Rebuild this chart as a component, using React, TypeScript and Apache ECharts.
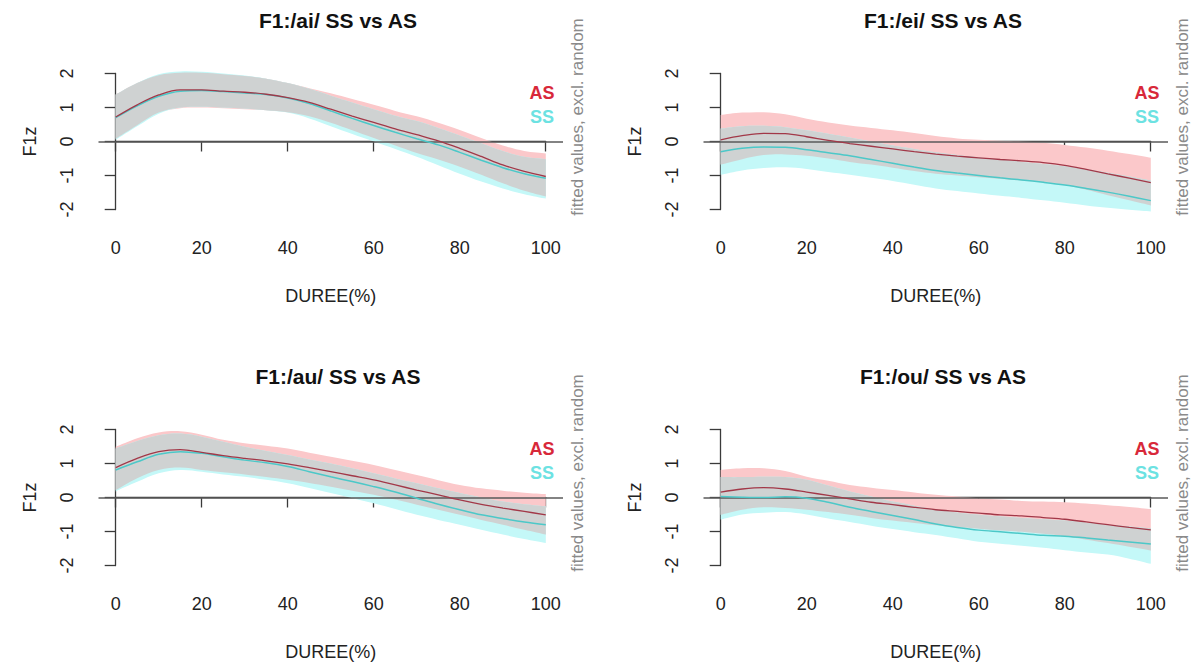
import React, { useEffect, useRef } from "react";
import * as echarts from "echarts";

// ---- data ----
const X = [0, 5, 10, 15, 20, 25, 30, 35, 40, 45, 50, 55, 60, 65, 70, 75, 80, 85, 90, 95, 100];
const X_TICKS = [0, 20, 40, 60, 80, 100];
const Y_TICKS = [-2, -1, 0, 1, 2];
const TITLES = ["F1:/ai/ SS vs AS", "F1:/ei/ SS vs AS", "F1:/au/ SS vs AS", "F1:/ou/ SS vs AS"];
const GROUPS = ["AS", "SS"];

// /ai/
const aiAsFit = [0.72, 1.08, 1.37, 1.52, 1.52, 1.48, 1.45, 1.39, 1.29, 1.15, 0.95, 0.75, 0.56, 0.37, 0.2, 0.02, -0.2, -0.44, -0.69, -0.88, -1.03];
const aiAsLo = [0.08, 0.48, 0.85, 0.98, 1.0, 0.98, 0.95, 0.92, 0.86, 0.74, 0.55, 0.33, 0.1, -0.12, -0.34, -0.53, -0.74, -0.98, -1.23, -1.45, -1.62];
const aiAsHi = [1.38, 1.72, 1.95, 2.02, 2.02, 1.98, 1.93, 1.85, 1.72, 1.57, 1.42, 1.25, 1.08, 0.9, 0.74, 0.55, 0.34, 0.1, -0.12, -0.28, -0.35];
const aiSsFit = [0.7, 1.05, 1.33, 1.48, 1.5, 1.47, 1.43, 1.38, 1.28, 1.12, 0.9, 0.68, 0.47, 0.27, 0.08, -0.1, -0.32, -0.55, -0.77, -0.95, -1.08];
const aiSsLo = [0.05, 0.45, 0.82, 1.0, 1.02, 1.0, 0.97, 0.92, 0.85, 0.68, 0.45, 0.22, 0.0, -0.22, -0.45, -0.7, -0.95, -1.18, -1.38, -1.55, -1.68];
const aiSsHi = [1.38, 1.72, 1.98, 2.06, 2.05, 2.0, 1.94, 1.85, 1.72, 1.55, 1.35, 1.15, 0.95, 0.76, 0.6, 0.4, 0.18, -0.05, -0.28, -0.45, -0.52];

// /ei/
const eiAsFit = [0.05, 0.17, 0.24, 0.23, 0.14, 0.03, -0.06, -0.14, -0.22, -0.3, -0.37, -0.43, -0.48, -0.53, -0.57, -0.62, -0.7, -0.82, -0.95, -1.08, -1.21];
const eiAsLo = [-0.68, -0.52, -0.4, -0.38, -0.42, -0.5, -0.6, -0.68, -0.77, -0.87, -0.95, -1.0, -1.05, -1.1, -1.15, -1.2, -1.28, -1.42, -1.58, -1.73, -1.88];
const eiAsHi = [0.78, 0.85, 0.86, 0.8, 0.67, 0.56, 0.47, 0.4, 0.33, 0.25, 0.16, 0.09, 0.05, 0.02, 0.0, -0.04, -0.1, -0.18, -0.27, -0.37, -0.48];
const eiSsFit = [-0.3, -0.2, -0.16, -0.17, -0.24, -0.33, -0.42, -0.53, -0.64, -0.75, -0.85, -0.93, -1.0, -1.07, -1.13, -1.2, -1.28, -1.38, -1.49, -1.61, -1.74];
const eiSsLo = [-0.98, -0.85, -0.78, -0.76, -0.81, -0.9, -0.98, -1.07, -1.16, -1.27, -1.38, -1.46, -1.53, -1.6, -1.66, -1.73, -1.8, -1.88, -1.95, -2.01, -2.06];
const eiSsHi = [0.38, 0.45, 0.46, 0.42, 0.33, 0.23, 0.12, 0.0, -0.12, -0.22, -0.32, -0.4, -0.47, -0.53, -0.6, -0.66, -0.73, -0.82, -0.92, -1.03, -1.15];

// /au/
const auAsFit = [0.88, 1.15, 1.35, 1.41, 1.33, 1.23, 1.15, 1.08, 0.99, 0.88, 0.76, 0.64, 0.52, 0.37, 0.22, 0.08, -0.07, -0.2, -0.31, -0.41, -0.51];
const auAsLo = [0.22, 0.57, 0.81, 0.88, 0.81, 0.74, 0.68, 0.6, 0.52, 0.43, 0.32, 0.2, 0.08, -0.06, -0.21, -0.36, -0.51, -0.66, -0.8, -0.95, -1.09];
const auAsHi = [1.49, 1.74, 1.91, 1.95, 1.85, 1.7, 1.6, 1.52, 1.44, 1.32, 1.2, 1.08, 0.96, 0.81, 0.66, 0.51, 0.37, 0.27, 0.2, 0.14, 0.1];
const auSsFit = [0.81, 1.05, 1.27, 1.35, 1.3, 1.2, 1.1, 1.02, 0.91, 0.76, 0.61, 0.47, 0.32, 0.16, -0.02, -0.2, -0.36, -0.51, -0.62, -0.72, -0.8];
const auSsLo = [0.18, 0.46, 0.71, 0.81, 0.76, 0.68, 0.61, 0.52, 0.42, 0.28, 0.13, -0.02, -0.17, -0.34, -0.51, -0.66, -0.8, -0.95, -1.09, -1.22, -1.34];
const auSsHi = [1.44, 1.66, 1.83, 1.88, 1.79, 1.64, 1.49, 1.37, 1.25, 1.12, 1.0, 0.86, 0.71, 0.56, 0.42, 0.27, 0.13, 0.0, -0.12, -0.2, -0.26];

// /ou/
const ouAsFit = [0.16, 0.25, 0.29, 0.25, 0.16, 0.06, -0.04, -0.14, -0.21, -0.29, -0.36, -0.41, -0.46, -0.51, -0.54, -0.59, -0.64, -0.72, -0.8, -0.88, -0.95];
const ouAsLo = [-0.51, -0.36, -0.29, -0.31, -0.36, -0.43, -0.51, -0.6, -0.68, -0.75, -0.82, -0.87, -0.92, -0.97, -1.01, -1.07, -1.14, -1.24, -1.34, -1.45, -1.56];
const ouAsHi = [0.81, 0.86, 0.86, 0.78, 0.61, 0.49, 0.37, 0.29, 0.22, 0.15, 0.08, 0.03, -0.02, -0.06, -0.1, -0.12, -0.14, -0.18, -0.23, -0.28, -0.34];
const ouSsFit = [0.03, 0.01, 0.0, 0.02, -0.02, -0.14, -0.29, -0.41, -0.53, -0.65, -0.78, -0.88, -0.96, -1.01, -1.06, -1.11, -1.14, -1.19, -1.25, -1.31, -1.37];
const ouSsLo = [-0.65, -0.5, -0.45, -0.43, -0.5, -0.62, -0.72, -0.83, -0.93, -1.02, -1.1, -1.2, -1.3, -1.36, -1.42, -1.48, -1.55, -1.62, -1.68, -1.8, -1.95];
const ouSsHi = [0.6, 0.6, 0.61, 0.6, 0.52, 0.35, 0.18, 0.03, -0.12, -0.24, -0.36, -0.44, -0.51, -0.56, -0.6, -0.64, -0.68, -0.74, -0.8, -0.85, -0.9];

const PANELS = [
  { title: TITLES[0], as: [aiAsFit, aiAsLo, aiAsHi], ss: [aiSsFit, aiSsLo, aiSsHi], ox: 0, oy: 0 },
  { title: TITLES[1], as: [eiAsFit, eiAsLo, eiAsHi], ss: [eiSsFit, eiSsLo, eiSsHi], ox: 605, oy: 0 },
  { title: TITLES[2], as: [auAsFit, auAsLo, auAsHi], ss: [auSsFit, auSsLo, auSsHi], ox: 0, oy: 356 },
  { title: TITLES[3], as: [ouAsFit, ouAsLo, ouAsHi], ss: [ouSsFit, ouSsLo, ouSsHi], ox: 605, oy: 356 },
];

const FONT = "'Liberation Sans', Arial, Helvetica, sans-serif";
const AS_BAND = "#fbc8ca";
const SS_BAND = "#c4f8f8";
const BOTH_BAND = "#cfd2d2";
const AS_LINE = "#a23848";
const SS_LINE = "#4cc8c8";
const AS_TEXT = "#d8283a";
const SS_TEXT = "#6ce2e2";
const AXIS = "#3a3a3a";
const SMOOTH = 0.35;

// smooth path through pixel points (same control-point rule as ECharts line smoothing)
function curve(pts: number[][], moveFirst: boolean): string {
  let d = (moveFirst ? "M" : "L") + pts[0][0].toFixed(2) + "," + pts[0][1].toFixed(2);
  for (let i = 0; i < pts.length - 1; i++) {
    const p0 = pts[Math.max(0, i - 1)];
    const p1 = pts[i];
    const p2 = pts[i + 1];
    const p3 = pts[Math.min(pts.length - 1, i + 2)];
    const c1x = p1[0] + (p2[0] - p0[0]) * SMOOTH * 0.5;
    const c1y = p1[1] + (p2[1] - p0[1]) * SMOOTH * 0.5;
    const c2x = p2[0] - (p3[0] - p1[0]) * SMOOTH * 0.5;
    const c2y = p2[1] - (p3[1] - p1[1]) * SMOOTH * 0.5;
    d += "C" + c1x.toFixed(2) + "," + c1y.toFixed(2) + " " + c2x.toFixed(2) + "," + c2y.toFixed(2) + " " + p2[0].toFixed(2) + "," + p2[1].toFixed(2);
  }
  return d;
}

function bandSeries(name: string, lo: number[], hi: number[], color: string, axisIdx: number, z: number) {
  return {
    name,
    type: "custom",
    xAxisIndex: axisIdx,
    yAxisIndex: axisIdx,
    silent: true,
    z,
    clip: false,
    encode: { x: 0, y: [1, 2] },
    data: X.map((x, k) => [x, lo[k], hi[k]]),
    renderItem: (params: any, api: any) => {
      if (params.dataIndex !== 0) return null;
      const top = X.map((x, k) => api.coord([x, hi[k]]));
      const bot = X.map((x, k) => api.coord([x, lo[k]])).reverse();
      const d = curve(top, true) + curve(bot, false) + "Z";
      return { type: "path", shape: { pathData: d }, style: { fill: color, stroke: "none" } };
    },
  };
}

function buildOption() {
  const grid: any[] = [];
  const xAxis: any[] = [];
  const yAxis: any[] = [];
  const series: any[] = [];
  const title: any[] = [];
  const graphic: any[] = [];

  PANELS.forEach((p, i) => {
    const { ox, oy } = p;
    grid.push({ left: 98.5 + ox, top: 68.1 + oy, width: 464.5, height: 146.8 });
    grid.push({ left: 115.7 + ox, top: 73.5 + oy, width: 430, height: 136 });
    const dg = 2 * i;
    const ag = 2 * i + 1;
    xAxis.push({ gridIndex: dg, type: "value", min: -4, max: 104, show: false });
    xAxis.push({
      gridIndex: ag, type: "value", position: "bottom", offset: 5.5,
      min: X_TICKS[0], max: X_TICKS[X_TICKS.length - 1], interval: X_TICKS[1] - X_TICKS[0],
      axisLine: { show: true, lineStyle: { color: AXIS, width: 1.3 } },
      axisTick: { show: true, length: 10, lineStyle: { color: AXIS, width: 1.3 } },
      axisLabel: { fontSize: 18, color: "#222", fontFamily: FONT, margin: 24 },
      splitLine: { show: false },
      name: "DUREE(%)", nameLocation: "middle", nameGap: 72,
      nameTextStyle: { fontSize: 18, color: "#222", fontFamily: FONT },
    });
    yAxis.push({ gridIndex: dg, type: "value", min: -2.16, max: 2.16, show: false });
    yAxis.push({
      gridIndex: ag, type: "value", position: "left", offset: 17.2,
      min: Y_TICKS[0], max: Y_TICKS[Y_TICKS.length - 1], interval: Y_TICKS[1] - Y_TICKS[0],
      axisLine: { show: true, lineStyle: { color: AXIS, width: 1.3 } },
      axisTick: { show: true, length: 11, lineStyle: { color: AXIS, width: 1.3 } },
      axisLabel: { fontSize: 18, color: "#222", fontFamily: FONT, margin: 23, rotate: 90 },
      splitLine: { show: false },
      name: "F1z", nameLocation: "middle", nameGap: 60, nameRotate: 90,
      nameTextStyle: { fontSize: 18, color: "#222", fontFamily: FONT },
    });

    const [asFit, asLo, asHi] = p.as;
    const [ssFit, ssLo, ssHi] = p.ss;
    // overlap of the two confidence bands
    const bothLo = X.map((_, k) => Math.max(asLo[k], ssLo[k]));
    const bothHi = X.map((_, k) => Math.max(Math.min(asHi[k], ssHi[k]), bothLo[k]));

    series.push(bandSeries(GROUPS[0] + " CI", asLo, asHi, AS_BAND, dg, 1));
    series.push(bandSeries(GROUPS[1] + " CI", ssLo, ssHi, SS_BAND, dg, 2));
    series.push(bandSeries("CI overlap", bothLo, bothHi, BOTH_BAND, dg, 3));
    series.push({
      name: GROUPS[0], type: "line", xAxisIndex: dg, yAxisIndex: dg, smooth: SMOOTH, symbol: "none",
      lineStyle: { color: AS_LINE, width: 1.3 }, z: 6,
      data: X.map((x, k) => [x, asFit[k]]),
      markLine: {
        silent: true, symbol: ["none", "none"], label: { show: false },
        lineStyle: { color: "#5a5a5a", width: 1.6, type: "solid" },
        data: [{ yAxis: 0 }],
      },
    });
    series.push({
      name: GROUPS[1], type: "line", xAxisIndex: dg, yAxisIndex: dg, smooth: SMOOTH, symbol: "none",
      lineStyle: { color: SS_LINE, width: 1.5 }, z: 5,
      data: X.map((x, k) => [x, ssFit[k]]),
    });

    title.push({
      text: p.title, left: 333 + ox, top: 5 + oy, textAlign: "center",
      textStyle: { fontSize: 21, fontWeight: "bold", color: "#111", fontFamily: FONT },
    });

    graphic.push({
      type: "text", x: 542 + ox, y: 93 + oy, z: 100,
      style: { text: GROUPS[0], fill: AS_TEXT, fontSize: 18, fontWeight: "bold", fontFamily: FONT, align: "center", verticalAlign: "middle" },
    });
    graphic.push({
      type: "text", x: 542 + ox, y: 117 + oy, z: 100,
      style: { text: GROUPS[1], fill: SS_TEXT, fontSize: 18, fontWeight: "bold", fontFamily: FONT, align: "center", verticalAlign: "middle" },
    });
    graphic.push({
      type: "text", x: 577 + ox, y: 117 + oy, rotation: Math.PI / 2, z: 100,
      style: { text: "fitted values, excl. random", fill: "#8a8a8a", fontSize: 17, fontFamily: FONT, align: "center", verticalAlign: "middle" },
    });
  });

  return { animation: false, backgroundColor: "#ffffff", grid, xAxis, yAxis, series, title, graphic };
}

export default function App() {
  const ref = useRef<HTMLDivElement>(null);
  useEffect(() => {
    if (!ref.current) return;
    const chart = echarts.init(ref.current, undefined, { renderer: "svg" });
    chart.setOption(buildOption() as any);
    return () => chart.dispose();
  }, []);
  return (
    <div
      ref={ref}
      style={{ position: "fixed", left: 0, top: 0, width: 1193, height: 664, background: "#fff" }}
    />
  );
}
